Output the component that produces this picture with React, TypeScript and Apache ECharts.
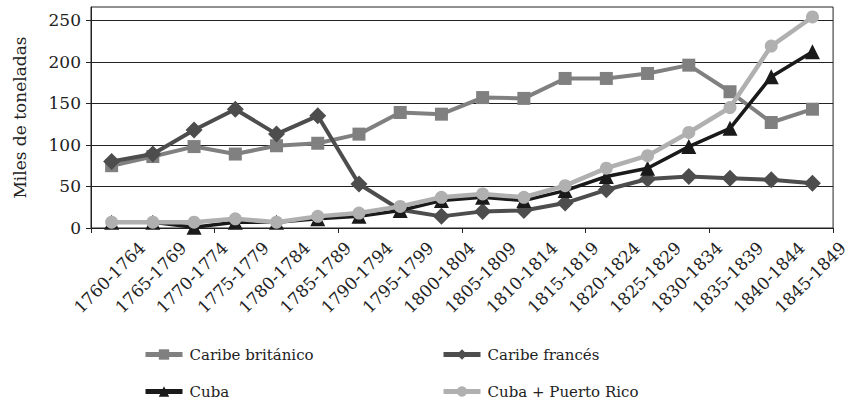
import React, { useEffect, useRef } from "react";
import * as echarts from "echarts";

const categories = [
  "1760-1764", "1765-1769", "1770-1774", "1775-1779", "1780-1784", "1785-1789",
  "1790-1794", "1795-1799", "1800-1804", "1805-1809", "1810-1814", "1815-1819",
  "1820-1824", "1825-1829", "1830-1834", "1835-1839", "1840-1844", "1845-1849",
];
const caribeBritanico = [75, 86, 98, 89, 99, 102, 113, 139, 137, 157, 156, 180, 180, 186, 196, 164, 127, 143];
const caribeFrances = [80, 89, 118, 143, 113, 135, 53, 22, 14, 20, 21, 30, 46, 59, 62, 60, 58, 54];
const cuba = [7, 7, 1, 7, 7, 11, 14, 21, 33, 37, 33, 45, 62, 72, 98, 120, 182, 212];
const cubaPuertoRico = [7, 7, 7, 11, 7, 14, 18, 26, 37, 41, 37, 51, 72, 87, 115, 145, 219, 254];
const yTicks = [0, 50, 100, 150, 200, 250];
const yAxisName = "Miles de toneladas";
const seriesNames = ["Caribe británico", "Caribe francés", "Cuba", "Cuba + Puerto Rico"];

const FONT = "DejaVu Serif";
const INK = "#222222";

export default function App() {
  const ref = useRef<HTMLDivElement>(null);
  useEffect(() => {
    if (!ref.current) return;
    const chart = echarts.init(ref.current, undefined, { renderer: "svg" });
    const mk = (name: string, data: number[], color: string, symbol: string, size: number, width: number, z: number) => ({
      name,
      type: "line",
      data,
      xAxisIndex: 0,
      yAxisIndex: 0,
      symbol,
      symbolSize: size,
      showAllSymbol: true,
      lineStyle: { color, width },
      itemStyle: { color, borderWidth: 0 },
      z,
    });
    const legendItem = (name: string, left: number, top: number) => ({
      orient: "horizontal",
      left,
      top,
      padding: 0,
      itemWidth: 37,
      itemHeight: 13,
      data: [name],
      lineStyle: { width: 5 },
      textStyle: { fontFamily: FONT, fontSize: 15, color: INK, padding: [0, 0, 0, 2] },
    });
    chart.setOption({
      animation: false,
      backgroundColor: "#ffffff",
      textStyle: { fontFamily: FONT, color: INK },
      grid: {
        left: 91, right: 9, top: 7, bottom: 179,
        show: true, borderColor: INK, borderWidth: 1, backgroundColor: "transparent",
      },
      legend: [
        legendItem(seriesNames[0], 143, 347),
        legendItem(seriesNames[2], 143, 384),
        legendItem(seriesNames[1], 441, 347),
        legendItem(seriesNames[3], 441, 384),
      ],
      xAxis: [
        {
          type: "category",
          data: categories,
          boundaryGap: true,
          position: "bottom",
          axisLine: { show: true, lineStyle: { color: INK, width: 1 } },
          axisTick: { show: true, length: 5, lineStyle: { color: INK } },
          axisLabel: { show: false },
          splitLine: { show: false },
        },
        {
          type: "value",
          min: 0,
          max: categories.length,
          interval: 1,
          position: "bottom",
          axisLine: { show: false },
          axisTick: { show: false },
          splitLine: { show: false },
          axisLabel: {
            show: true,
            rotate: 45,
            margin: 7,
            fontSize: 17,
            fontFamily: FONT,
            color: INK,
            align: "right",
            verticalAlign: "top",
            lineHeight: 28,
            formatter: (v: number) => categories[Math.round(v) - 1] ?? "",
          },
        },
      ],
      yAxis: {
        type: "value",
        min: 0,
        max: 266,
        interval: 50,
        name: yAxisName,
        nameLocation: "middle",
        nameGap: 63,
        nameTextStyle: { fontFamily: FONT, fontSize: 17, color: INK },
        axisLine: { show: true, lineStyle: { color: INK, width: 1 } },
        axisTick: { show: true, length: 5, lineStyle: { color: INK }, customValues: yTicks },
        axisLabel: {
          fontFamily: FONT, fontSize: 17, color: INK, margin: 10,
          customValues: yTicks,
          formatter: (v: number) => (yTicks.includes(v) ? String(v) : ""),
        },
        splitLine: { show: true, lineStyle: { color: INK, width: 1 } },
      },
      series: [
        mk(seriesNames[0], caribeBritanico, "#808080", "rect", 13, 4, 2),
        mk(seriesNames[1], caribeFrances, "#4d4d4d", "diamond", 17, 4, 3),
        mk(seriesNames[2], cuba, "#1a1a1a", "triangle", 15, 3.5, 4),
        mk(seriesNames[3], cubaPuertoRico, "#b0b0b0", "circle", 13, 4.5, 5),
      ],
    });
    return () => chart.dispose();
  }, []);
  return (
    <div
      ref={ref}
      style={{ position: "fixed", left: 0, top: 0, width: 855, height: 407, background: "#fff" }}
    />
  );
}
